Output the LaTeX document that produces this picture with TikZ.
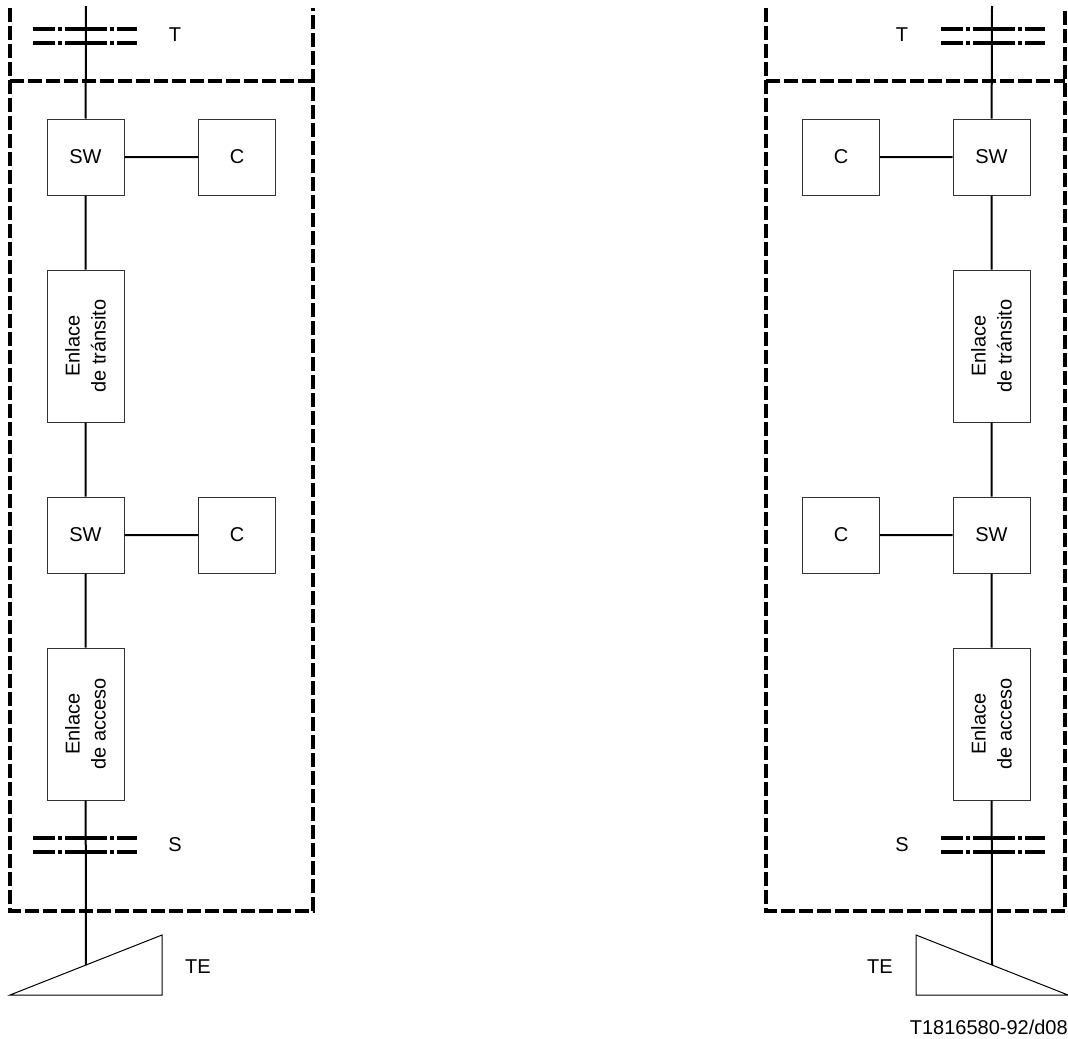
\documentclass[tikz,border=0pt]{standalone}
\usepackage{fontspec}
\setmainfont{Liberation Sans}

\begin{document}
\begin{tikzpicture}[x=0.75pt,y=-0.75pt,
        box/.style={draw=black!80,line width=0.75pt,minimum width=57.75pt,minimum height=57pt,inner sep=0pt,font=\fontsize{15}{18}\selectfont},
        link/.style={draw=black!80,line width=0.75pt,minimum width=114pt,minimum height=57.75pt,inner sep=0pt,rotate=90,align=center,font=\fontsize{15}{19.5}\selectfont},
        wire/.style={line width=1.5pt},
        frame/.style={line width=2.5pt,dash pattern=on 10.5pt off 3pt},
        point/.style={line width=3pt,dash pattern=on 16.5pt off 2.25pt on 3pt off 2.25pt on 31.5pt off 2.25pt on 3pt off 2.25pt on 16.5pt off 20pt},
        lbl/.style={font=\fontsize{15}{18}\selectfont,inner sep=0pt}]
            \useasboundingbox (0,0) rectangle (1068,1039);

            % left side
            \coordinate (ta) at (86,6);
            \coordinate (ea) at (86,965);
            \node (swa1) at (85.5,157) [box] {SW};
            \node (ca1) at (237,157) [box] {C};
            \node (tra) at (85.5,346) [link] {Enlace\\de tránsito};
            \node (swa2) at (85.5,535) [box] {SW};
            \node (ca2) at (237,535) [box] {C};
            \node (aca) at (85.5,724) [link] {Enlace\\de acceso};

            \draw[wire] (ta) -- (swa1) (swa1) -- (tra) (tra) -- (swa2) (swa2) -- (aca) (aca) -- (ea)
                        (swa1) -- (ca1) (swa2) -- (ca2);
            \draw[frame] (10,8) -- (10,911) -- (313,911) -- (313,8) (10,81) -- (313,81);
            \draw[point] (33,29) -- (137,29) (33,43) -- (137,43);
            \draw[point] (33,838) -- (137,838) (33,852) -- (137,852);
            \draw[line width=0.75pt,line join=miter] (10,995) -- (162,935) -- (162,995) -- cycle;
            \node (tla) at (175,35) [lbl] {T};
            \node (sla) at (175,845) [lbl] {S};
            \node (tea) at (198,967) [lbl] {TE};

            % right side
            \coordinate (tb) at (992,6);
            \coordinate (eb) at (992,965);
            \node (swb1) at (991.5,157) [box] {SW};
            \node (cb1) at (841,157) [box] {C};
            \node (trb) at (991.5,346) [link] {Enlace\\de tránsito};
            \node (swb2) at (991.5,535) [box] {SW};
            \node (cb2) at (841,535) [box] {C};
            \node (acb) at (991.5,724) [link] {Enlace\\de acceso};

            \draw[wire] (tb) -- (swb1) (swb1) -- (trb) (trb) -- (swb2) (swb2) -- (acb) (acb) -- (eb)
                        (swb1) -- (cb1) (swb2) -- (cb2);
            \draw[frame] (766,8) -- (766,911) -- (1065,911) -- (1065,8) (766,81) -- (1065,81);
            \draw[point] (941,29) -- (1045,29) (941,43) -- (1045,43);
            \draw[point] (941,838) -- (1045,838) (941,852) -- (1045,852);
            \draw[line width=0.75pt,line join=miter] (916,935) -- (1068,995) -- (916,995) -- cycle;
            \node (tlb) at (902,35) [lbl] {T};
            \node (slb) at (902,845) [lbl] {S};
            \node (teb) at (880,967) [lbl] {TE};

            \node (ref) at (1068,1027) [lbl,anchor=east] {T1816580-92/d08};
\end{tikzpicture}
\end{document}
